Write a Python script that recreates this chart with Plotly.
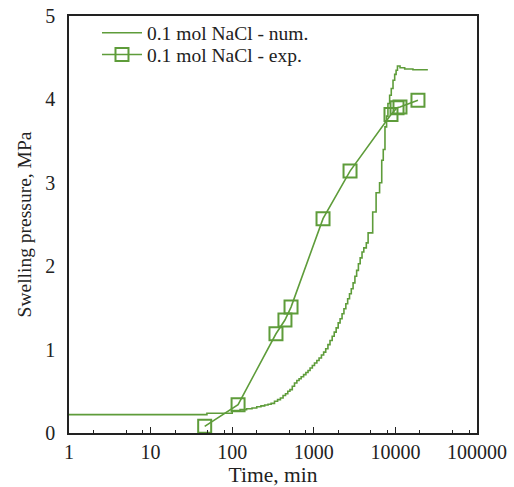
import plotly.graph_objects as go

# Numerical (simulation) curve: time [min], swelling pressure [MPa]
num_time = [1, 49, 100, 125, 150, 175, 200, 225, 250, 275, 300, 330, 360, 390, 420, 450,
            480, 510, 545, 580, 620, 660, 700, 750, 800, 850, 900, 960, 1020, 1090, 1160,
            1240, 1320, 1400, 1490, 1580, 1680, 1780, 1880, 1990, 2100, 2220, 2340, 2470,
            2600, 2740, 2880, 3030, 3190, 3350, 3520, 3700, 3900, 4100, 4400, 4630, 5270,
            5800, 6400, 6800, 7100, 7450, 7800, 8100, 8500, 8900, 9350, 9800, 10200, 10600,
            11400, 13000, 16400, 20000, 25000]
num_pressure = [0.22, 0.236, 0.27, 0.28, 0.29, 0.30, 0.315, 0.325, 0.335, 0.345, 0.355, 0.38,
                0.40, 0.42, 0.45, 0.47, 0.50, 0.52, 0.56, 0.60, 0.63, 0.65, 0.675, 0.70, 0.725,
                0.75, 0.78, 0.81, 0.84, 0.87, 0.90, 0.935, 0.97, 1.01, 1.06, 1.11, 1.16, 1.21,
                1.26, 1.32, 1.37, 1.43, 1.49, 1.55, 1.61, 1.67, 1.73, 1.80, 1.88, 1.95, 2.03,
                2.10, 2.17, 2.22, 2.28, 2.40, 2.65, 2.88, 3.00, 3.27, 3.40, 3.67, 3.80, 3.95,
                4.05, 4.13, 4.23, 4.30, 4.35, 4.40, 4.38, 4.365, 4.355, 4.355, 4.355]

# Experimental data
exp_time = [46, 118, 344, 443, 526, 1297, 2780, 8830, 10470, 11380, 18900]
exp_pressure = [0.08, 0.34, 1.19, 1.355, 1.51, 2.57, 3.14, 3.82, 3.90, 3.91, 3.99]

x_tickvals = [1, 10, 100, 1000, 10000, 100000]
x_ticktext = ["1", "10", "100", "1000", "10000", "100000"]
x_minor = [m * 10 ** d for d in range(5) for m in (2, 5, 8)]

green = "#5e9c3a"
font_family = "Liberation Serif, DejaVu Serif, serif"

fig = go.Figure()
fig.add_trace(go.Scatter(
    x=num_time, y=num_pressure, mode="lines", line_shape="hv",
    line=dict(color=green, width=1.6), name="0.1 mol NaCl - num.", legend="legend"))
fig.add_trace(go.Scatter(
    x=exp_time, y=exp_pressure, mode="lines+markers",
    line=dict(color=green, width=1.6),
    marker=dict(symbol="square-open", size=13, color=green, line=dict(width=2, color=green)),
    name="0.1 mol NaCl - exp.", legend="legend2"))

leg_common = dict(xanchor="left", yanchor="middle", bgcolor="rgba(0,0,0,0)",
                  borderwidth=0, font=dict(size=19.5), itemwidth=40)

fig.update_layout(
    width=514, height=487,
    margin=dict(l=69, r=37, t=16, b=54),
    paper_bgcolor="white", plot_bgcolor="white",
    font=dict(family=font_family, size=20, color="#222222"),
    showlegend=True,
    legend=dict(x=0.0686, y=0.959, **leg_common),
    legend2=dict(x=0.0686, y=0.907, **leg_common),
    xaxis=dict(type="log", range=[0, 5], tickvals=x_tickvals, ticktext=x_ticktext,
               ticks="inside", ticklen=6, tickcolor="#222222", tickwidth=1,
               minor=dict(tickvals=x_minor, ticks="inside", ticklen=3, tickcolor="#222222"),
               showgrid=False, zeroline=False, showline=True, linecolor="#222222",
               linewidth=1.5, mirror=True, automargin=False,
               title=dict(text="Time, min", font=dict(size=21.5), standoff=6)),
    yaxis=dict(range=[0, 5], tickvals=[0, 1, 2, 3, 4, 5], ticks="",
               showgrid=False, zeroline=False, showline=True, linecolor="#222222",
               linewidth=1.5, mirror=True, ticklabelstandoff=8, automargin=False,
               title=dict(text="Swelling pressure, MPa", font=dict(size=19.5), standoff=8)),
)

fig.write_html("out.html")
